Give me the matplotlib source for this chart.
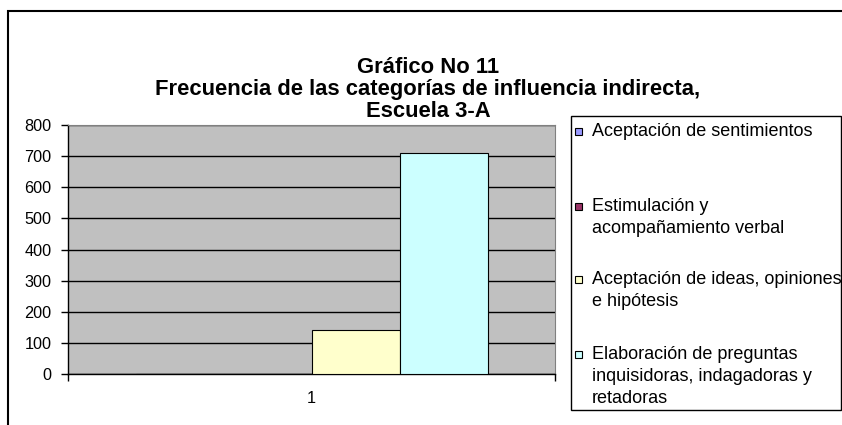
import numpy as np
import matplotlib.pyplot as plt
from matplotlib.patches import Rectangle

plt.rcParams['font.family'] = ['Liberation Sans', 'DejaVu Sans']

# data
categories = ['1']
series_names = ['Aceptación de sentimientos',
                'Estimulación y\nacompañamiento verbal',
                'Aceptación de ideas, opiniones\ne hipótesis',
                'Elaboración de preguntas\ninquisidoras, indagadoras y\nretadoras']
series_values = [0, 0, 142, 710]
series_colors = ['#9999FF', '#993366', '#FFFFCC', '#CCFFFF']
y_ticks = [0, 100, 200, 300, 400, 500, 600, 700, 800]

W, H = 842, 425
fig = plt.figure(figsize=(W / 100, H / 100), dpi=100)

def fx(px):
    return px / W

def fy(py):
    return 1 - py / H

# outer chart frame (cropped at right and bottom)
fig.patches.append(Rectangle((fx(8), fy(440)), fx(900), 440 / H - 11 / H,
                             transform=fig.transFigure, fill=False,
                             edgecolor='black', linewidth=1.5))

ax = fig.add_axes([fx(68), fy(374), fx(555 - 68), (374 - 125) / H])
ax.set_facecolor('#C0C0C0')

w = 88 / 487
x = np.arange(1, len(categories) + 1)
for i, (name, val, col) in enumerate(zip(series_names, series_values, series_colors)):
    ax.bar(x + (i - 1.5) * w, [val], width=w, color=col, edgecolor='black',
           linewidth=0.8, zorder=3, label=name)

ax.set_xlim(0.5, 1.5)
ax.set_ylim(0, 800)
ax.set_yticks(y_ticks)
ax.yaxis.grid(True, color='black', linewidth=1, zorder=1)
ax.set_axisbelow(True)
ax.tick_params(axis='y', direction='out', length=5, width=1, pad=7, labelsize=11.7)
ax.set_xticks(x)
ax.set_xticklabels(categories)
ax.set_xticks([0.5, 1.5], minor=True)
ax.tick_params(axis='x', which='major', length=0, pad=12, labelsize=11.7)
ax.tick_params(axis='x', which='minor', direction='out', length=5, width=1)
for s in ['top', 'right']:
    ax.spines[s].set_color('#808080')
for s in ['left', 'bottom']:
    ax.spines[s].set_color('black')
    ax.spines[s].set_linewidth(1)

# title
title_lines = ['Gráfico No 11', 'Frecuencia de las categorías de influencia indirecta,', 'Escuela 3-A']
for line, py in zip(title_lines, [73, 95, 117]):
    fig.text(fx(428), fy(py), line, ha='center', va='baseline',
             fontsize=15.8, fontweight='bold')

# legend box
fig.patches.append(Rectangle((fx(571), fy(410)), fx(841 - 571), (410 - 116) / H,
                             transform=fig.transFigure, fill=True, facecolor='white',
                             edgecolor='black', linewidth=1))
entry_base = [136, 211, 284, 359]
for name, col, py in zip(series_names, series_colors, entry_base):
    fig.patches.append(Rectangle((fx(575), fy(py - 1)), fx(7), 7 / H,
                                 transform=fig.transFigure, facecolor=col,
                                 edgecolor='black', linewidth=0.8))
    for k, part in enumerate(name.split('\n')):
        fig.text(fx(592), fy(py + 22 * k), part, ha='left', va='baseline',
                 fontsize=13)

fig.savefig('out.png', dpi=100)
